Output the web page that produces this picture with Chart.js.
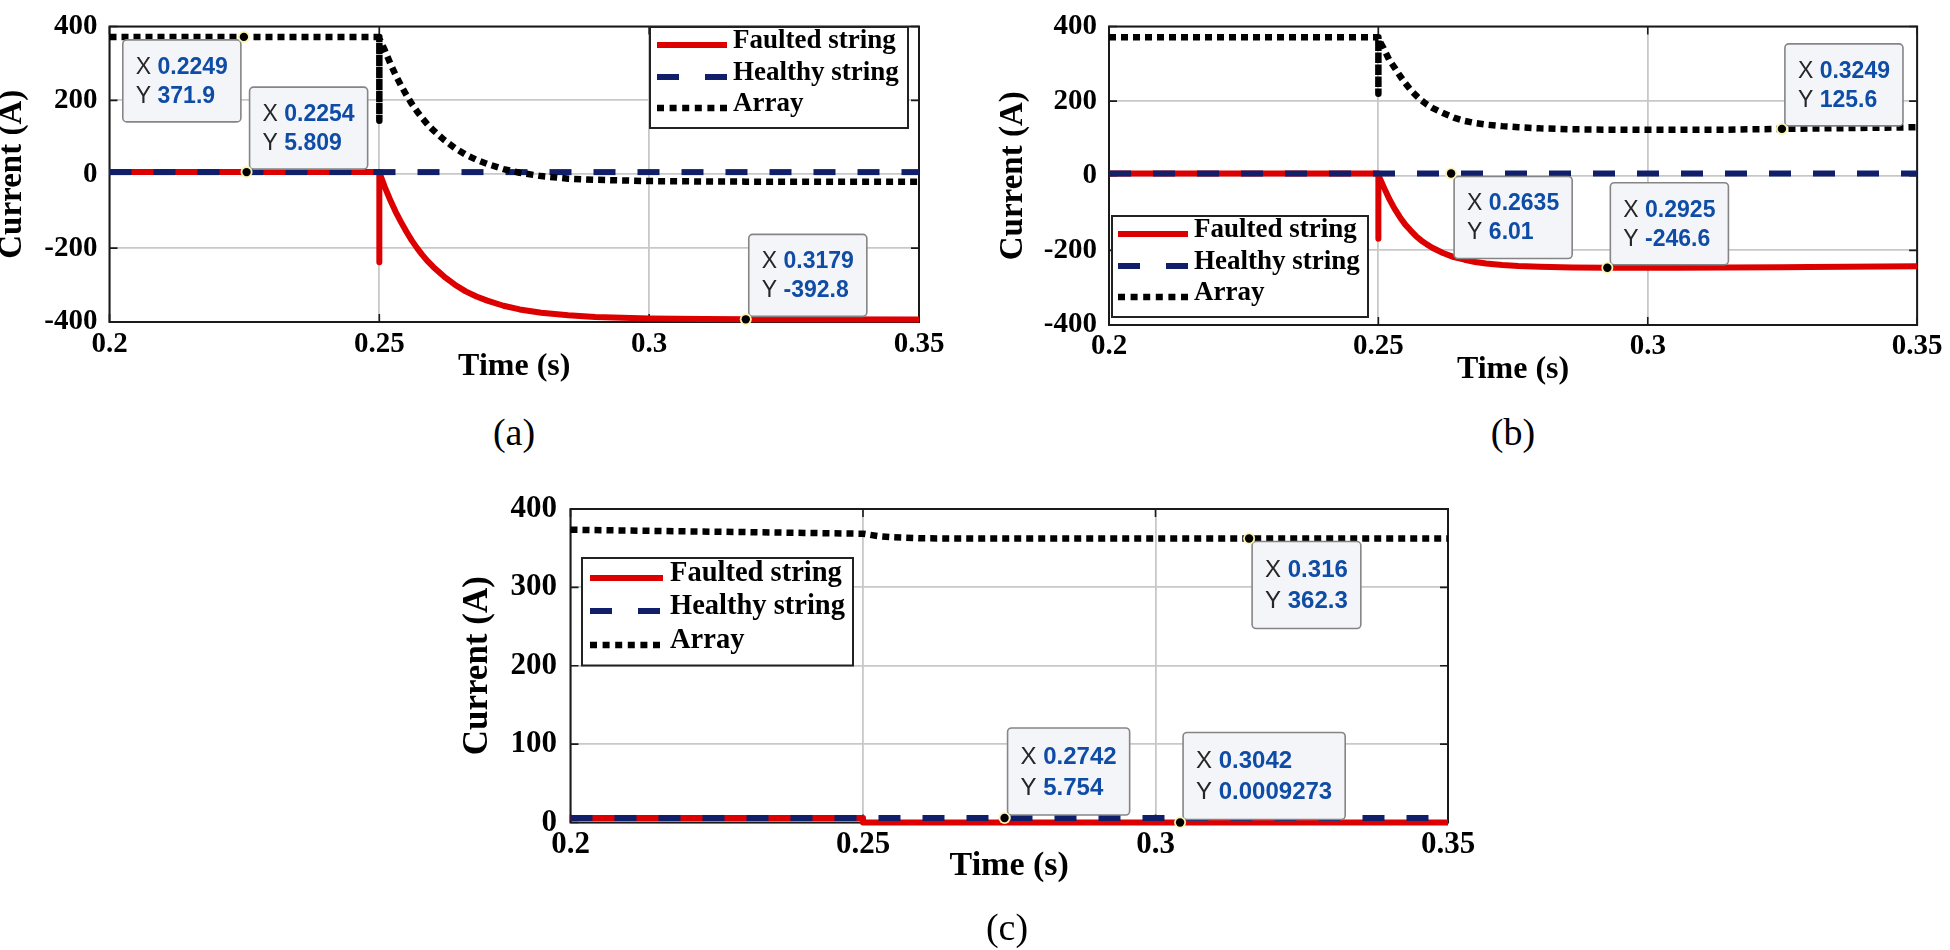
<!DOCTYPE html>
<html>
<head>
<meta charset="utf-8">
<title>String and array currents</title>
<script src="https://cdn.jsdelivr.net/npm/chart.js@4.4.1/dist/chart.umd.min.js"></script>
<style>
  html, body { margin:0; padding:0; background:#ffffff; }
  body { position:relative; width:1950px; height:950px; overflow:hidden; }
  canvas { position:absolute; }
  .cap { position:absolute; width:120px; text-align:center; font-family:'Liberation Serif','Times New Roman',serif; font-size:38px; line-height:40px; color:#000; }
</style>
</head>
<body>
<canvas id="chartA"></canvas>
<canvas id="chartB"></canvas>
<canvas id="chartC"></canvas>
<div class="cap" style="left:454px; top:412px;">(a)</div>
<div class="cap" style="left:1453px; top:412px;">(b)</div>
<div class="cap" style="left:947px; top:907px;">(c)</div>
<script>
// ---------------- tick labels ----------------
const xTicks   = [0.2, 0.25, 0.3, 0.35];
const yTicksAB = [-400, -200, 0, 200, 400];
const yTicksC  = [0, 100, 200, 300, 400];

// ---------------- panel (a) ----------------
const tA = [0.2, 0.25, 0.25, 0.25, 0.251, 0.252, 0.253, 0.254, 0.255, 0.256, 0.257, 0.258, 0.259, 0.26,
            0.262, 0.264, 0.266, 0.268, 0.27, 0.273, 0.276, 0.28, 0.285, 0.29, 0.3, 0.31, 0.3179, 0.35];
const faultA = [5.809, 5.809, -238, 5, -34, -69, -101, -129, -155, -179, -200, -219, -236, -251,
                -277, -299, -317, -331, -342, -356, -366, -375, -382, -386.6, -390.7, -392.2, -392.8, -393];
const arrayA = [371.9, 371.9, 145, 368, 336, 301, 269, 241, 215, 191, 170, 151, 134, 119,
                93, 71, 53, 39, 28, 14, 4, -5, -12, -15, -18.5, -19.5, -20, -20];
const tA_healthy = [0.2, 0.35];
const healthyA = [5.809, 5.809];
const tipXA = [0.2249, 0.2254, 0.3179];
const tipYA = [371.9, 5.809, -392.8];

// ---------------- panel (b) ----------------
const tB = [0.2, 0.25, 0.25, 0.25, 0.251, 0.252, 0.253, 0.254, 0.255, 0.256, 0.257, 0.258, 0.259, 0.26,
            0.262, 0.264, 0.266, 0.268, 0.27, 0.273, 0.276, 0.28, 0.286, 0.2925, 0.305, 0.3145, 0.3249, 0.33, 0.35];
const faultB = [6.01, 6.01, -169, 2, -30.5, -61.6, -88, -111, -131, -147, -162, -174, -184, -193,
                -207, -218, -225, -231, -235, -239, -242, -244, -245.8, -246.6, -246.5, -246, -245.2, -244.5, -242.5];
const arrayB = [371, 371, 220, 366, 341, 311, 290, 268, 248, 230, 215, 202, 191, 182,
                168, 156, 147, 141, 137, 133, 130, 127, 124.5, 123.5, 123, 123.5, 125.6, 126.5, 130];
const tB_healthy = [0.2, 0.35];
const healthyB = [6.01, 6.01];
const tipXB = [0.2635, 0.2925, 0.3249];
const tipYB = [6.01, -246.6, 125.6];

// ---------------- panel (c) ----------------
const tC_fault = [0.2, 0.25, 0.25, 0.35];
const faultC = [5.754, 5.754, 0.0009273, 0.0009273];
const tC_healthy = [0.2, 0.35];
const healthyC = [5.754, 5.754];
const tC_array = [0.2, 0.22, 0.24, 0.25, 0.2525, 0.255, 0.26, 0.27, 0.35];
const arrayC = [373.5, 371.5, 369.5, 368.5, 365.5, 364, 362.6, 362.3, 362.3];
const tipXC = [0.316, 0.2742, 0.3042];
const tipYC = [362.3, 5.754, 0.0009273];

const seriesLabels = ['Faulted string', 'Healthy string', 'Array'];

// ---------------- styles ----------------
const RED = '#dd0000', NAVY = '#111f6b', BLACK = '#000000';
const SERIF = "'Liberation Serif', 'Times New Roman', serif";
const SANS = "'Liberation Sans', Arial, Helvetica, sans-serif";
const styleF = { color: RED,   width: 6,   dash: [],       legendDash: [],        order: 2 };
const styleH = { color: NAVY,  width: 6,   dash: [22, 22], legendDash: [22, 26],  order: 1 };
const styleR = { color: BLACK, width: 6.5, dash: [7, 5],   legendDash: [7, 5.6],  order: 0 };

function roundRectPath(ctx, x, y, w, h, r) {
  ctx.beginPath();
  ctx.moveTo(x + r, y);
  ctx.lineTo(x + w - r, y); ctx.arcTo(x + w, y, x + w, y + r, r);
  ctx.lineTo(x + w, y + h - r); ctx.arcTo(x + w, y + h, x + w - r, y + h, r);
  ctx.lineTo(x + r, y + h); ctx.arcTo(x, y + h, x, y + h - r, r);
  ctx.lineTo(x, y + r); ctx.arcTo(x, y, x + r, y, r);
  ctx.closePath();
}

function buildChart(id, c) {
  const el = document.getElementById(id);
  el.width = c.W; el.height = c.H;
  el.style.left = c.ox + 'px'; el.style.top = c.oy + 'px';
  const L = c.plot[0] - c.ox, T = c.plot[1] - c.oy, R = c.plot[2] - c.ox, B = c.plot[3] - c.oy;

  const panelPlugin = {
    id: 'panel_' + id,
    beforeDatasetsDraw(chart) {
      const { ctx, chartArea: a, scales } = chart;
      ctx.save();
      ctx.strokeStyle = '#1a1a1a';
      ctx.lineWidth = 1.6;
      ctx.beginPath();
      scales.x.ticks.forEach(t => {
        const px = scales.x.getPixelForValue(t.value);
        ctx.moveTo(px, a.bottom); ctx.lineTo(px, a.bottom - 8);
        ctx.moveTo(px, a.top); ctx.lineTo(px, a.top + 8);
      });
      scales.y.ticks.forEach(t => {
        const py = scales.y.getPixelForValue(t.value);
        ctx.moveTo(a.left, py); ctx.lineTo(a.left + 8, py);
        ctx.moveTo(a.right, py); ctx.lineTo(a.right - 8, py);
      });
      ctx.stroke();
      ctx.lineWidth = 2;
      ctx.strokeRect(a.left, a.top, a.right - a.left, a.bottom - a.top);
      ctx.restore();
    },
    afterDraw(chart) {
      const { ctx, scales } = chart;
      ctx.save();
      // ----- legend -----
      const lg = c.legend;
      const bx = lg.box[0] - c.ox, by = lg.box[1] - c.oy, bw = lg.box[2] - lg.box[0], bh = lg.box[3] - lg.box[1];
      ctx.fillStyle = '#ffffff';
      ctx.fillRect(bx, by, bw, bh);
      ctx.strokeStyle = '#222222'; ctx.lineWidth = 2;
      ctx.strokeRect(bx, by, bw, bh);
      chart.data.datasets.forEach((ds, i) => {
        const y = lg.rows[i] - c.oy;
        ctx.beginPath();
        ctx.strokeStyle = ds.borderColor; ctx.lineWidth = ds.borderWidth;
        ctx.lineCap = 'butt';
        ctx.setLineDash(c.series[i].style.legendDash);
        ctx.moveTo(lg.s0 - c.ox, y); ctx.lineTo(lg.s1 - c.ox, y);
        ctx.stroke();
        ctx.setLineDash([]);
        ctx.fillStyle = '#000000';
        ctx.font = 'bold ' + lg.size + 'px ' + SERIF;
        ctx.textBaseline = 'middle'; ctx.textAlign = 'left';
        ctx.fillText(ds.label, lg.tx - c.ox, y - 4);
      });
      // ----- data tips -----
      const tp = c.tips;
      const fontR = tp.size + 'px ' + SANS;
      const fontB = 'bold ' + tp.size + 'px ' + SANS;
      tp.xs.forEach((xv, i) => {
        const yv = tp.ys[i];
        const mx = scales.x.getPixelForValue(xv);
        const my = scales.y.getPixelForValue(yv);
        const xs = String(xv), ys = String(yv);
        ctx.font = fontR;
        const wX = ctx.measureText('X ').width, wY = ctx.measureText('Y ').width;
        ctx.font = fontB;
        const vX = ctx.measureText(xs).width, vY = ctx.measureText(ys).width;
        const w = Math.max(wX + vX, wY + vY) + 26;
        const h = tp.h;
        const dir = tp.dirs[i];
        const x0 = dir.indexOf('r') >= 0 ? mx + 3 : mx - 3 - w;
        const y0 = dir.indexOf('d') >= 0 ? my + 3 : my - 3 - h;
        roundRectPath(ctx, x0, y0, w, h, 4);
        ctx.fillStyle = '#f3f5f9'; ctx.fill();
        ctx.strokeStyle = '#858585'; ctx.lineWidth = 1.6; ctx.stroke();
        ctx.textBaseline = 'middle'; ctx.textAlign = 'left';
        const r1 = y0 + h * 0.335, r2 = y0 + h * 0.69;
        ctx.font = fontR; ctx.fillStyle = '#262626';
        ctx.fillText('X ', x0 + 13, r1);
        ctx.fillText('Y ', x0 + 13, r2);
        ctx.font = fontB; ctx.fillStyle = '#0f4ca6';
        ctx.fillText(xs, x0 + 13 + wX, r1);
        ctx.fillText(ys, x0 + 13 + wY, r2);
        // marker
        ctx.beginPath(); ctx.arc(mx, my, 6, 0, Math.PI * 2);
        ctx.fillStyle = '#fbf4b0'; ctx.fill();
        ctx.beginPath(); ctx.arc(mx, my, 4.2, 0, Math.PI * 2);
        ctx.fillStyle = '#000000'; ctx.fill();
      });
      ctx.restore();
    }
  };

  const datasets = c.series.map((s, i) => ({
    label: seriesLabels[i],
    data: s.t.map((t, k) => ({ x: t, y: s.v[k] })),
    borderColor: s.style.color,
    backgroundColor: s.style.color,
    borderWidth: s.style.width,
    borderDash: s.style.dash,
    order: s.style.order,
    pointRadius: 0, pointHoverRadius: 0, tension: 0, fill: false, clip: false,
    borderCapStyle: 'butt', borderJoinStyle: 'round'
  }));

  return new Chart(el, {
    type: 'line',
    data: { datasets },
    options: {
      responsive: false, animation: false, events: [],
      layout: { padding: { left: 0, top: T, right: c.W - R, bottom: c.H - B - c.xh } },
      plugins: { legend: { display: false }, tooltip: { enabled: false }, title: { display: false } },
      scales: {
        x: {
          type: 'linear', min: c.xmin, max: c.xmax,
          afterBuildTicks: s => { s.ticks = xTicks.map(v => ({ value: v })); },
          afterFit: s => { s.height = c.xh; },
          grid: { color: '#c8c8c8', lineWidth: 1.8, drawTicks: false },
          border: { display: false },
          ticks: { padding: c.xpad, color: '#000', maxRotation: 0, autoSkip: false,
                   font: { family: SERIF, size: c.tick, weight: 'bold', lineHeight: 1 },
                   callback: v => String(v) },
          title: { display: true, text: 'Time (s)', color: '#000',
                   font: { family: SERIF, size: c.xt, weight: 'bold', lineHeight: '30px' },
                   padding: { top: 0, bottom: 0 } }
        },
        y: {
          type: 'linear', min: c.ymin, max: c.ymax,
          afterBuildTicks: s => { s.ticks = c.yticks.map(v => ({ value: v })); },
          afterFit: s => { s.width = L; },
          grid: { color: '#c8c8c8', lineWidth: 1.8, drawTicks: false },
          border: { display: false },
          ticks: { padding: c.ypad, color: '#000', autoSkip: false,
                   font: { family: SERIF, size: c.tick, weight: 'bold', lineHeight: 1 },
                   callback: v => String(v) },
          title: { display: true, text: 'Current (A)', color: '#000',
                   font: { family: SERIF, size: c.yt, weight: 'bold', lineHeight: '25px' },
                   padding: { top: c.ytp, bottom: 0 } }
        }
      }
    },
    plugins: [panelPlugin]
  });
}

buildChart('chartA', {
  ox: 0, oy: 0, W: 960, H: 400, plot: [109.5, 15.7, 919, 322],
  xmin: 0.2, xmax: 0.35, ymin: -400, ymax: 400, yticks: yTicksAB,
  tick: 29, xpad: 8.5, ypad: 12, xh: 60, xt: 32, yt: 33, ytp: 0,
  series: [
    { t: tA, v: faultA, style: styleF },
    { t: tA_healthy, v: healthyA, style: styleH },
    { t: tA, v: arrayA, style: styleR }
  ],
  legend: { box: [650, 27, 908, 128], s0: 657, s1: 727, tx: 733, rows: [45, 77, 108], size: 27 },
  tips: { xs: tipXA, ys: tipYA, dirs: ['dl', 'ur', 'ur'], size: 23, h: 82 }
});

buildChart('chartB', {
  ox: 990, oy: 0, W: 960, H: 400, plot: [1109, 23.5, 1925, 325],
  xmin: 0.2, xmax: 0.35, ymin: -400, ymax: 400, yticks: yTicksAB,
  tick: 29, xpad: 7.5, ypad: 12, xh: 60, xt: 32, yt: 33, ytp: 10.5,
  series: [
    { t: tB, v: faultB, style: styleF },
    { t: tB_healthy, v: healthyB, style: styleH },
    { t: tB, v: arrayB, style: styleR }
  ],
  legend: { box: [1112, 216, 1368, 317], s0: 1118, s1: 1188, tx: 1194, rows: [234, 266, 297], size: 27 },
  tips: { xs: tipXB, ys: tipYB, dirs: ['dr', 'ur', 'ur'], size: 23, h: 82 }
});

buildChart('chartC', {
  ox: 440, oy: 480, W: 1060, H: 470, plot: [570.5, 502.5, 1448, 822.5],
  xmin: 0.2, xmax: 0.35, ymin: 0, ymax: 400, yticks: yTicksC,
  tick: 31, xpad: 7, ypad: 13.5, xh: 58.5, xt: 34, yt: 35, ytp: 25.5,
  series: [
    { t: tC_fault, v: faultC, style: styleF },
    { t: tC_healthy, v: healthyC, style: styleH },
    { t: tC_array, v: arrayC, style: styleR }
  ],
  legend: { box: [582, 558, 853, 665.5], s0: 590, s1: 663, tx: 670, rows: [578, 611, 645], size: 28.5 },
  tips: { xs: tipXC, ys: tipYC, dirs: ['dr', 'ur', 'ur'], size: 24, h: 87 }
});
</script>
</body>
</html>
